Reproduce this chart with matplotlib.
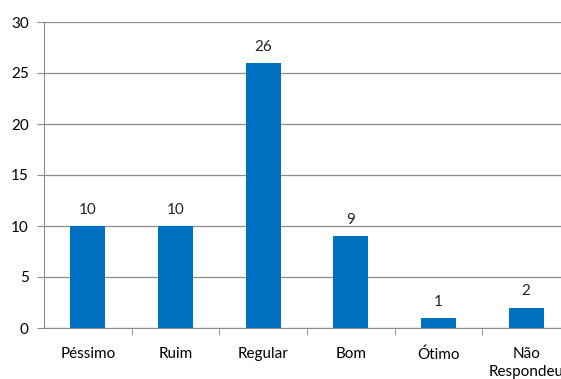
import matplotlib.pyplot as plt
import numpy as np

categories = ["Péssimo", "Ruim", "Regular", "Bom", "Ótimo", "Não\nRespondeu"]
values = [10, 10, 26, 9, 1, 2]
yticks = [0, 5, 10, 15, 20, 25, 30]

plt.rcParams['font.family'] = ['Lato', 'DejaVu Sans']

fig = plt.figure(figsize=(5.61, 3.79), dpi=100)
# axes extends past the right edge, as in the original
ax = fig.add_axes([44/561, 51/379, 526/561, 306/379])

x = np.arange(len(categories))
ax.bar(x, values, width=0.4, color='#0070C0', zorder=3)
for xi, v in zip(x, values):
    ax.text(xi, v + 0.9, str(v), ha='center', va='bottom', fontsize=11, color='#222222')

ax.set_xlim(-0.5, len(categories) - 0.5)
ax.set_ylim(0, 30)
ax.set_yticks(yticks)
ax.yaxis.grid(True, color='#8c8c8c', linewidth=0.9, zorder=0)
ax.tick_params(axis='y', length=5, color='#8c8c8c', labelsize=11, pad=6)

# category labels, ticks on the boundaries
ax.set_xticks(x)
ax.set_xticklabels(categories, fontsize=11, linespacing=1.3)
ax.tick_params(axis='x', length=0, pad=14)
ax.set_xticks(np.arange(0.5, len(categories) - 0.5, 1.0), minor=True)
ax.tick_params(axis='x', which='minor', length=5, color='#8c8c8c')

for s in ['top', 'right']:
    ax.spines[s].set_visible(False)
for s in ['left', 'bottom']:
    ax.spines[s].set_color('#8c8c8c')

fig.savefig('out.png', dpi=100)
